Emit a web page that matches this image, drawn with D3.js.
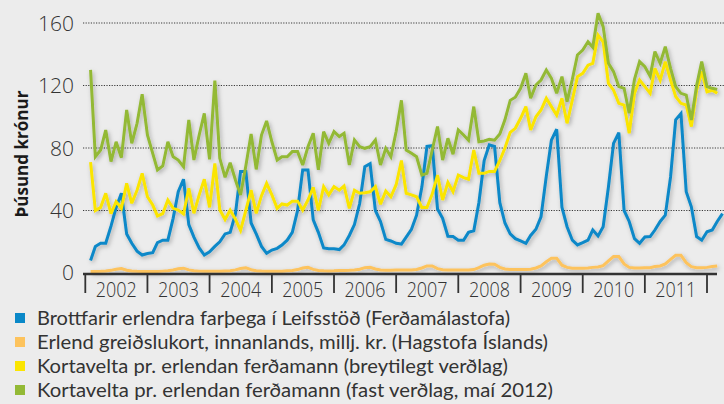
<!DOCTYPE html>
<html><head><meta charset="utf-8">
<script src="https://cdn.jsdelivr.net/npm/d3@7"></script>
<style>
html,body{margin:0;padding:0;background:#ececec;}
svg{display:block;}
</style></head>
<body>
<script>
// ---- data (monthly, Jan 2002 onwards) ----
const yearLabels = ["2002","2003","2004","2005","2006","2007","2008","2009","2010","2011"];
const yTicks = [0, 40, 80, 120, 160];
const seriesNames = [
  "Brottfarir erlendra farþega í Leifsstöð (Ferðamálastofa)",
  "Erlend greiðslukort, innanlands, millj. kr. (Hagstofa Íslands)",
  "Kortavelta pr. erlendan ferðamann (breytilegt verðlag)",
  "Kortavelta pr. erlendan ferðamann (fast verðlag, maí 2012)"
];
const brottfarir = [
  8,17,19,19,30,42,51,25,19,14,11.5,12.5,
  13,19.5,21,21,35,52,60,31,23,16,11.5,13.6,
  17,20,25,26,38,65,65,32,25,17,12.6,14.7,
  15.8,17.9,21,26,40,66,66,34,26,16,15.5,15.5,
  15,18,24,31,44.6,68,70,40,33,21.5,20.5,19,
  18.5,23,28,37,55,81,81.5,41,35,23.5,23.3,21,
  21,26,27,45,72,82,81,45,32,25,22,20.5,
  19,24,28,36,62,85,92,42,29.6,21,18,19.4,
  21,27.5,23.7,29.6,55,83,89.8,40,33,22,19,23,
  23.3,27.5,33,37,61.5,98,102,52,42.4,23.3,21,26.4,
  27.5,33,38
];
const erlendKort = [
  1,1,1.1,1.3,1.7,2.4,2.9,1.8,1.3,1.1,1,1,
  1,1,1.2,1.4,1.9,2.7,3.1,2,1.4,1.2,1.1,1.1,
  1.1,1.1,1.3,1.5,2,2.9,3.4,2.1,1.5,1.3,1.2,1.2,
  1.2,1.2,1.4,1.6,2.2,3.2,3.6,2.3,1.6,1.4,1.3,1.4,
  1.6,1.6,1.7,1.9,2.4,3.4,3.6,2.6,1.9,1.8,1.8,1.9,
  2,2,2,2.2,3.2,4.5,4.5,2.8,2.1,2,2,2,
  2,2,2.2,3.4,5,5.8,5.6,3.6,2.6,2.3,2.3,2.3,
  2.3,2.4,3.2,4.5,7.2,9.4,9.4,5,3.6,3,3,3,
  3.2,3.6,3.8,4.7,7.8,10.5,10.5,5.8,3.6,3.2,3.2,3.4,
  3.4,4.1,4.5,5.8,8.7,11.3,11.3,6.6,4.1,3.4,3.4,3.6,
  4.1,4.5
];
const veltaBreytilegt = [
  71,40,42,51,38,45.6,41.4,57.4,44.6,53,63.8,48.8,
  43.5,36.5,38,46.7,41.4,40.3,37.8,54.2,38.2,50,60,42,
  70.2,40.5,34.2,40.3,34.4,27.3,40,53,38.2,49.5,57.4,50,
  41.4,44.2,43.5,46,46,40.3,46.7,54.8,40,55.3,50,55.3,
  53,55.7,41.4,53,51,51.4,52,55.3,44,52.5,48.8,56.5,
  72,51,50,48.8,42,42,50.5,62.7,46.7,58,52,62.7,
  61,60,78.7,63.8,63.8,65,65,72,80,90,92.6,99,
  106.5,91.5,100,104.3,111.8,106.5,101,111.8,95.8,110.7,125.7,127.8,
  133,134.2,152.3,148,121.4,117,108.6,107.5,89.4,115,123.5,119.3,
  115,131,123.5,135.3,123.5,113,108.6,107.5,93.7,117,129,116,
  117,115
];
const veltaFast = [
  130,74.4,78.7,91.5,71.3,84,73.8,104.3,83,95.8,114.4,88.3,
  76.6,65.9,68.5,84,74.4,72.3,68,97.9,72.3,88.3,102.2,72.7,
  123.1,73.4,61.2,70.6,59.5,49.9,68.5,89,66.3,88.3,97.3,84,
  72.3,74.4,74.4,77.7,77.7,69.1,80.8,89.4,66,90.5,83,90.5,
  87.3,89.4,69.1,85.1,80.8,79.8,80.8,85.1,69.1,79.8,74.4,90.5,
  110.5,78.7,76.6,74.4,62.7,63.8,78.7,93.7,72.3,86.2,76,91.5,
  88.3,85,106.5,84,84.5,85.5,85,89,98,110.5,112.5,118.2,
  127.8,111.8,120.3,123.5,129.9,124.6,115,125.7,109.7,124,139.5,142.7,
  148,144.5,166.2,157.7,134.2,128.9,119.3,118.2,102.2,124,135.3,132,
  126,141.7,134.2,144.9,131,119.3,115,113.9,97.9,120,135.3,119.3,
  118.2,117.5
];
const colors = ["#0a88c8", "#fdc35d", "#fbe500", "#93b935"];

// ---- layout ----
const W = 724, H = 404;
const svg = d3.select("body").append("svg").attr("width", W).attr("height", H);
svg.append("rect").attr("width", W).attr("height", H).attr("fill", "#ececec");

const defs = svg.append("defs");
const f = defs.append("filter").attr("id","sh").attr("x","-5%").attr("y","-10%").attr("width","110%").attr("height","125%");
f.append("feDropShadow").attr("dx",1.5).attr("dy",2).attr("stdDeviation",2.2)
  .attr("flood-color","#000").attr("flood-opacity",0.28);

const x = d3.scaleTime()
  .domain([new Date(2002,0,1), new Date(2012,0,1)])
  .range([85.3, 707]);
const y = d3.scaleLinear().domain([0,160]).range([273, 23]);
const monthEnd = i => new Date(2002, i + 1, 1);

// partially visible title (cut by top edge, as in the source)
svg.append("text").attr("x", 356).attr("y", -5)
  .attr("font-family","Open Sans, sans-serif").attr("font-weight","bold")
  .attr("font-size", 22).attr("fill","#1a5c96").attr("letter-spacing", 19)
  .text("gg");

// grid lines
svg.append("g").selectAll("line").data(yTicks.filter(d=>d>0)).join("line")
  .attr("x1", 83).attr("x2", W).attr("y1", d=>y(d)).attr("y2", d=>y(d))
  .attr("stroke","#3a3a3a").attr("stroke-width",1.1).attr("stroke-dasharray","1.2,1.4");

// y tick labels
svg.append("g").selectAll("text").data(yTicks).join("text")
  .attr("x", 74).attr("y", d=>y(d)+ (d===0? -1 : 0)).attr("dy","0.36em")
  .attr("text-anchor","end").attr("font-family","Open Sans, sans-serif")
  .attr("font-weight",300).attr("font-size",21).attr("fill","#333")
  .text(d=>d);

// y axis title
svg.append("text").attr("transform","translate(28,154) rotate(-90)")
  .attr("text-anchor","middle").attr("font-family","Open Sans, sans-serif")
  .attr("font-weight","bold").attr("font-size",17).attr("fill","#1a1a1a")
  .attr("textLength",127).attr("lengthAdjust","spacingAndGlyphs")
  .text("Þúsund krónur");

// series lines
const line = d3.line().x((d,i)=>x(monthEnd(i))).y(d=>y(d));
const allSeries = [erlendKort, brottfarir, veltaBreytilegt, veltaFast];
const allColors = [colors[1], colors[0], colors[2], colors[3]];
const lg = svg.append("g").attr("filter","url(#sh)");
allSeries.forEach((s,k)=>{
  lg.append("path").datum(s).attr("d", line).attr("fill","none")
    .attr("stroke", allColors[k]).attr("stroke-width",3)
    .attr("stroke-linejoin","miter").attr("stroke-miterlimit",3);
});

// x axis line and year ticks
svg.append("line").attr("x1",83).attr("x2",717).attr("y1",274).attr("y2",274)
  .attr("stroke","#333").attr("stroke-width",2.4);
const years = d3.range(2002, 2013);
svg.append("g").selectAll("line").data(years).join("line")
  .attr("x1", d=>x(new Date(d,0,1))).attr("x2", d=>x(new Date(d,0,1)))
  .attr("y1", 274).attr("y2", 293)
  .attr("stroke","#333").attr("stroke-width",1.8);
svg.append("g").selectAll("text").data(yearLabels).join("text")
  .attr("x", d=>x(new Date(+d,6,2))).attr("y", 297)
  .attr("text-anchor","middle").attr("font-family","Open Sans, sans-serif")
  .attr("font-weight",300).attr("font-size",20).attr("fill","#333")
  .attr("textLength",41).attr("lengthAdjust","spacingAndGlyphs")
  .text(d=>d);

// legend
const legendEnds = [510, 548, 508, 553];
const leg = svg.append("g").selectAll("g").data(seriesNames).join("g")
  .attr("transform",(d,i)=>`translate(0,${318 + i*24})`);
leg.append("rect").attr("x",15).attr("y",-5).attr("width",10).attr("height",10)
  .attr("fill",(d,i)=>colors[i]);
leg.append("text").attr("x",37).attr("y",0).attr("dy","0.36em")
  .attr("font-family","Lato, sans-serif").attr("font-weight",400)
  .attr("font-size",19.5).attr("fill","#333")
  .attr("textLength",(d,i)=>legendEnds[i]-37).attr("lengthAdjust","spacingAndGlyphs")
  .text(d=>d);
</script>
</body></html>
